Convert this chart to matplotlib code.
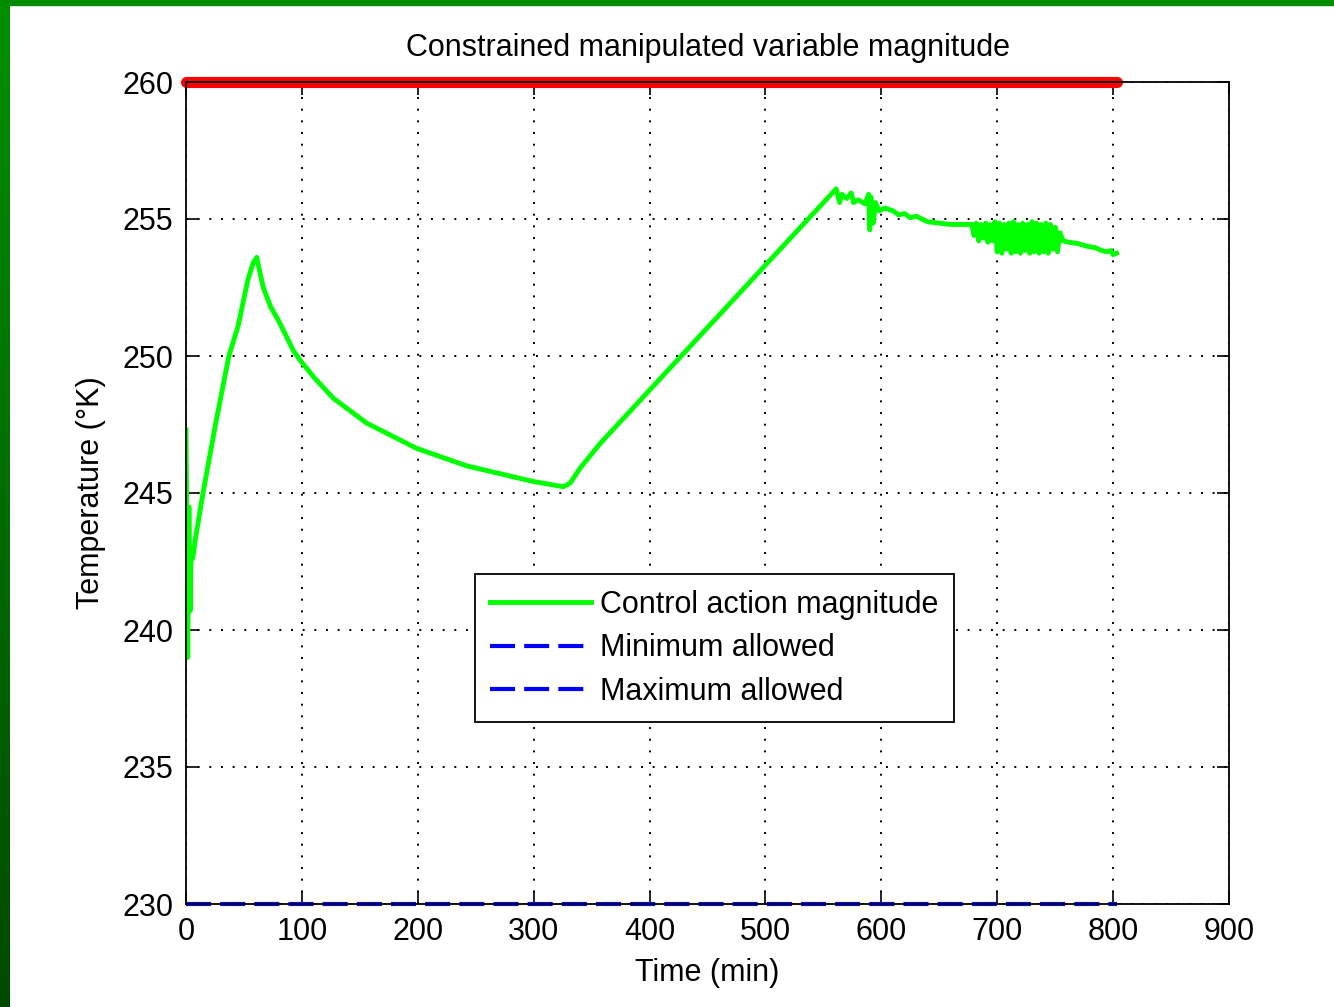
import numpy as np
import matplotlib
matplotlib.use('Agg')
import matplotlib.pyplot as plt
from matplotlib.patches import Rectangle

plt.rcParams['font.family'] = ['Liberation Sans', 'DejaVu Sans']

# control action
time_min = [0, 1.5, 2.5, 3.5, 4.5, 5.5, 6.5, 8,
            14.7, 25, 37, 45, 53.5, 58, 61,
            63, 66.7, 73, 81, 92.6, 98.4, 109.8, 127.1, 155.9, 199, 242.2, 299.7, 325.6,
            331.3, 340, 357.2, 561,
            564, 566, 570, 574, 576, 580, 586, 589, 590, 591, 593, 595, 598,
            603, 610, 615, 620, 625, 630, 640, 650, 660, 670,
            678, 680, 682, 684, 686, 688, 690, 692, 694, 696, 698, 700, 702,
            704, 706, 708, 710, 712, 714, 716, 718, 720, 722, 724, 726, 728,
            730, 732, 734, 736, 738, 740, 742, 744, 746, 748, 750, 752, 754,
            757, 762, 770, 778, 785, 790, 795, 798, 800, 803]
control = [247.3, 239.0, 244.5, 240.7, 243.0, 242.6, 242.8, 243.3,
           245.0, 247.4, 250.0, 251.1, 252.8, 253.4, 253.6,
           253.2, 252.5, 251.8, 251.2, 250.2, 249.85, 249.25, 248.46, 247.55, 246.63, 245.99, 245.42, 245.23,
           245.35, 245.9, 246.8, 256.1,
           255.6, 255.9, 255.75, 255.95, 255.6, 255.7, 255.55, 255.9, 254.6, 255.8, 254.85, 255.6, 255.3,
           255.4, 255.3, 255.15, 255.2, 255.05, 255.1, 254.9, 254.85, 254.8, 254.8,
           254.8, 254.4, 254.85, 254.2, 254.8, 254.3, 254.85, 254.15, 254.8, 254.2, 254.9, 253.8, 254.85,
           253.75, 254.8, 253.9, 254.85, 253.75, 254.9, 253.8, 254.8, 253.75, 254.85, 253.85, 254.8, 253.75,
           254.9, 253.8, 254.85, 253.75, 254.8, 253.8, 254.85, 253.75, 254.8, 253.9, 254.7, 253.8, 254.5,
           254.2, 254.15, 254.1, 254.0, 253.95, 253.85, 253.8, 253.85, 253.7, 253.75]

limit_time = [0, 803]
min_allowed = [230, 230]
max_allowed = [260, 260]

xticks = [0, 100, 200, 300, 400, 500, 600, 700, 800, 900]
yticks = [230, 235, 240, 245, 250, 255, 260]

fig = plt.figure(figsize=(13.34, 10.07), dpi=100)
fig.patch.set_facecolor('white')

# green slide frame (left gradient strip + top strip)
strip = fig.add_axes([0, 0, 10 / 1334, 1])
strip.imshow(np.linspace(0, 1, 256).reshape(-1, 1), aspect='auto',
             cmap=matplotlib.colors.LinearSegmentedColormap.from_list('g', ['#009000', '#004a00']))
strip.axis('off')
fig.patches.append(Rectangle((0, 1 - 5 / 1007), 1, 5 / 1007, transform=fig.transFigure,
                             color='#008c00', zorder=0))

ax = fig.add_axes([186 / 1334, 103 / 1007, 1043 / 1334, 822 / 1007])
ax.plot(time_min, control, color='#00ff00', linewidth=3.5, label='Control action magnitude', zorder=3)
ax.plot(limit_time, min_allowed, color='#0000ff', linewidth=3, linestyle=(0, (6, 2.2)),
        label='Minimum allowed', clip_on=False, zorder=3)
ax.plot(limit_time, max_allowed, color='#0000ff', linewidth=3, linestyle=(0, (6, 2.2)),
        label='Maximum allowed', clip_on=False, zorder=2)
ax.plot(limit_time, max_allowed, color='#ff0000', linewidth=8, solid_capstyle='round',
        clip_on=False, zorder=3.2)

ax.set_xlim(0, 900)
ax.set_ylim(230, 260)
ax.set_xticks(xticks)
ax.set_yticks(yticks)
ax.grid(True, color='k', linestyle=(0, (1, 5)), linewidth=1.4)
ax.tick_params(direction='in', length=9, width=1.2, top=True, right=True, labelsize=22, pad=9, colors='k')
for sp in ax.spines.values():
    sp.set_linewidth(1.3)
    sp.set_zorder(4)

ax.set_title('Constrained manipulated variable magnitude', fontsize=22, pad=19)
ax.set_xlabel('Time (min)', fontsize=22, labelpad=8)
ax.set_ylabel('Temperature (°K)', fontsize=22, labelpad=12)

leg = ax.legend(loc='lower left', bbox_to_anchor=(0.277, 0.221), fontsize=22, fancybox=False,
                framealpha=1, edgecolor='k', handlelength=3.3, handletextpad=0.3,
                labelspacing=0.45, borderpad=0.5, borderaxespad=0)
leg.get_frame().set_linewidth(1.3)
leg.set_zorder(5)

plt.savefig('out.png', dpi=100)
